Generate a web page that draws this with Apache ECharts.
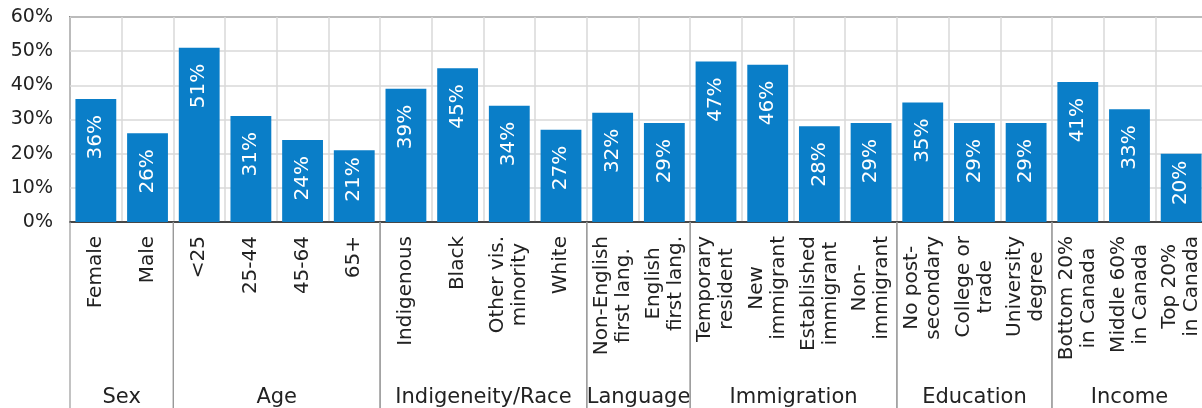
<!DOCTYPE html>
<html>
<head>
<meta charset="utf-8">
<title>Share by group</title>
<script src="https://cdn.jsdelivr.net/npm/echarts@6/dist/echarts.min.js"></script>
<style>
  html, body { margin: 0; padding: 0; background: #ffffff; }
  #chart { width: 1202px; height: 408px; }
</style>
</head>
<body>
<div id="chart"></div>
<script>
// Categories (multi-line labels use \n), grouped left to right
const categories = [
  'Female', 'Male',
  '<25', '25-44', '45-64', '65+',
  'Indigenous', 'Black', 'Other vis.\nminority', 'White',
  'Non-English\nfirst lang.', 'English\nfirst lang.',
  'Temporary\nresident', 'New\nimmigrant', 'Established\nimmigrant', 'Non-\nimmigrant',
  'No post-\nsecondary', 'College or\ntrade', 'University\ndegree',
  'Bottom 20%\nin Canada', 'Middle 60%\nin Canada', 'Top 20%\nin Canada'
];

// Percentage values for each category
const shares = [
  36, 26,
  51, 31, 24, 21,
  39, 45, 34, 27,
  32, 29,
  47, 46, 28, 29,
  35, 29, 29,
  41, 33, 20
];

// Group names and how many categories each spans
const groupNames = ['Sex', 'Age', 'Indigeneity/Race', 'Language', 'Immigration', 'Education', 'Income'];
const groupSizes = [2, 4, 4, 2, 4, 3, 3];

// Value axis range
const yMin = 0;
const yMax = 60;
const yStep = 10;

const FONT = '"DejaVu Sans", "Noto Sans", sans-serif';
const BAR_COLOR = '#0a7ec8';
const TEXT_COLOR = '#222222';
const GRID_COLOR = '#d9d9d9';
const CAT_FONT_SIZE = 20;
const CAT_LINE_HEIGHT = 22;
const CAT_MARGIN = 14;

// Group spans as [first index, last index]
const groupSpans = [];
let cursor = 0;
groupSizes.forEach(function (n) {
  groupSpans.push([cursor, cursor + n - 1, 0]);
  cursor += n;
});

// Category label rows: [category index, 0]
const categoryRows = categories.map(function (c, i) { return [i, 0]; });

// Width of each label's longest line, used to hang the rotated block from the axis
const measureCtx = document.createElement('canvas').getContext('2d');
measureCtx.font = CAT_FONT_SIZE + 'px ' + FONT;
const categoryWidths = categories.map(function (c) {
  return Math.max.apply(null, c.split('\n').map(function (s) {
    return measureCtx.measureText(s).width;
  }));
});

const barData = shares.map(function (v) {
  // the shortest bar keeps its label closer to the top so it stays inside
  return v < 22 ? { value: v, label: { distance: 7 } } : v;
});

const chart = echarts.init(document.getElementById('chart'), null, { renderer: 'canvas' });

chart.setOption({
  animation: false,
  backgroundColor: '#ffffff',
  grid: {
    left: 70,
    top: 17,
    width: 1137,
    height: 205,
    outerBoundsMode: 'none',
    containLabel: false,
    show: true,
    borderColor: '#333333',
    borderWidth: 1.5,
    backgroundColor: 'transparent'
  },
  xAxis: {
    type: 'category',
    data: categories,
    boundaryGap: true,
    axisLine: { show: true, lineStyle: { color: '#222222', width: 1.5 } },
    axisTick: { show: false },
    axisLabel: { show: false },
    splitLine: { show: true, interval: 0, lineStyle: { color: GRID_COLOR, width: 1.5 } }
  },
  yAxis: {
    type: 'value',
    min: yMin,
    max: yMax,
    interval: yStep,
    axisLine: { show: false },
    axisTick: { show: false },
    splitLine: { show: true, lineStyle: { color: GRID_COLOR, width: 1.5 } },
    axisLabel: {
      formatter: '{value}%',
      margin: 17,
      fontSize: 19,
      fontFamily: FONT,
      color: TEXT_COLOR
    }
  },
  series: [
    {
      type: 'bar',
      data: barData,
      barWidth: '79%',
      itemStyle: { color: BAR_COLOR },
      label: {
        show: true,
        position: 'insideTop',
        rotate: 90,
        align: 'right',
        verticalAlign: 'middle',
        distance: 16,
        formatter: '{c}%',
        color: '#ffffff',
        fontSize: 20,
        fontFamily: FONT
      }
    },
    {
      // rotated category labels, lines centred, hanging below the axis
      type: 'custom',
      clip: false,
      silent: true,
      encode: { x: 0, y: 1 },
      data: categoryRows,
      renderItem: function (params, api) {
        const i = params.dataIndex;
        const pt = api.coord([api.value(0), 0]);
        const w = categoryWidths[i];
        return {
          type: 'text',
          x: pt[0],
          y: pt[1] + CAT_MARGIN + w / 2,
          rotation: Math.PI / 2,
          style: {
            text: categories[i],
            x: 0,
            y: 0,
            align: 'center',
            verticalAlign: 'middle',
            fontSize: CAT_FONT_SIZE,
            fontFamily: FONT,
            lineHeight: CAT_LINE_HEIGHT,
            fill: TEXT_COLOR
          }
        };
      }
    },
    {
      // group separators and group names beneath the category labels
      type: 'custom',
      clip: false,
      silent: true,
      encode: { x: [0, 1], y: 2 },
      data: groupSpans,
      renderItem: function (params, api) {
        const start = api.value(0);
        const end = api.value(1);
        const band = api.size([1, 0])[0];
        const x0 = api.coord([start, 0])[0] - band / 2;
        const x1 = api.coord([end, 0])[0] + band / 2;
        const yAxisPos = api.coord([start, 0])[1];
        const h = api.getHeight();
        return {
          type: 'group',
          children: [
            {
              type: 'line',
              shape: { x1: x0, y1: yAxisPos, x2: x0, y2: h },
              style: { stroke: '#9a9a9a', lineWidth: 1.2 }
            },
            {
              type: 'line',
              shape: { x1: x1, y1: yAxisPos, x2: x1, y2: h },
              style: { stroke: '#9a9a9a', lineWidth: 1.2 }
            },
            {
              type: 'text',
              style: {
                text: groupNames[params.dataIndex],
                x: (x0 + x1) / 2,
                y: h - 10,
                align: 'center',
                verticalAlign: 'middle',
                fontSize: 21,
                fontFamily: FONT,
                fill: TEXT_COLOR
              }
            }
          ]
        };
      }
    }
  ]
});
</script>
</body>
</html>
